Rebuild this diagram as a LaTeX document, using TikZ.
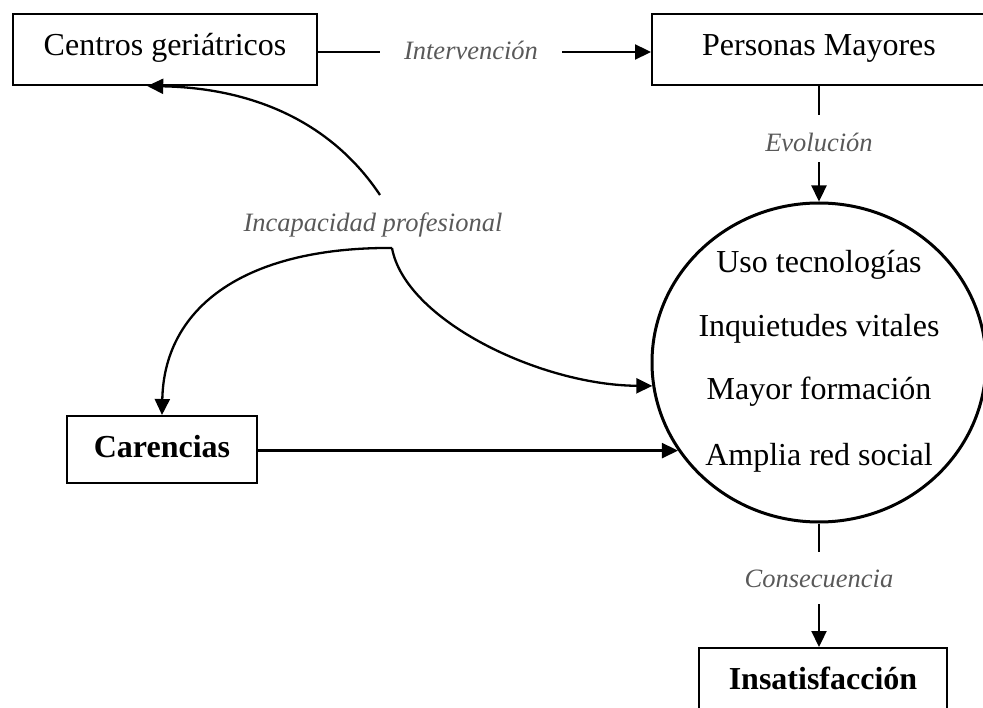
\documentclass[tikz,border=0pt]{standalone}
\usepackage{fontspec}
\setmainfont{Liberation Serif}
\usetikzlibrary{arrows.meta,shapes.geometric}
\definecolor{labelgray}{RGB}{89,89,89}
\begin{document}
\begin{tikzpicture}[x=1pt,y=-1pt,
  box/.style={draw, line width=2pt, inner sep=0pt, text depth=0pt, font=\fontsize{32}{38}\selectfont},
  lab/.style={inner sep=0pt, text depth=0pt, text=labelgray, font=\fontsize{26.5}{32}\selectfont\itshape},
  conn/.style={line width=2.3pt},
  arr/.style={conn, -{Triangle[length=16pt,width=15pt]}},
  ctext/.style={anchor=base, inner sep=0pt, font=\fontsize{32}{38}\selectfont}]
\useasboundingbox (0,0) rectangle (983,708);
\clip (0,0) rectangle (983,708);

% top row
\node[box, minimum width=304, minimum height=71, text height=13pt] (b1) at (165,49.5) {Centros geriátricos};
\node[box, minimum width=334, minimum height=71, text height=12pt] (b2) at (819,49.5) {Personas Mayores};
\node[lab, minimum width=182, minimum height=30, text height=16pt] (iv) at (471,52) {Intervención};
\draw[conn] (b1.east |- iv.west) -- (iv.west);
\draw[arr] (iv.east) -- (b2.west |- iv.east);

% evolution
\node[lab, minimum height=47, text height=27pt] (ev) at (819,138.5) {Evolución};
\draw[conn] (b2.south) -- (ev.north);
\node[draw, ellipse, line width=3pt, minimum width=334, minimum height=319, inner sep=0pt] (circ) at (819,362.5) {};
\draw[arr] (ev.south) -- (circ.north);

\node[ctext] (t1) at (819,273) {Uso tecnologías};
\node[ctext] (t2) at (819,337) {Inquietudes vitales};
\node[ctext] (t3) at (819,400) {Mayor formación};
\node[ctext] (t4) at (819,465) {Amplia red social};

% incapacidad profesional
\node[lab, minimum height=53, text height=21pt] (ip) at (373,221.5) {Incapacidad profesional};
\coordinate (ipT) at (380,195);
\coordinate (ipL) at (382,248);
\coordinate (ipR) at (392,248);
\draw[arr] (ipT) .. controls (330,120) and (250,88) .. (b1.244);

\node[box, minimum width=190, minimum height=67, text height=16pt] (car) at (162,449.5) {\textbf{Carencias}};
\draw[arr] (ipR) -- (ipL) .. controls (240,250) and (164,310) .. (car.north);
\draw[arr] (ipR) .. controls (405,320) and (540,385) .. (circ.188);
\coordinate (cin) at (circ.212.5);
\draw[arr] (car.east |- cin) -- (cin);

% consequence
\node[lab, minimum height=52, text height=18pt] (cons) at (819,578) {Consecuencia};
\draw[conn] (circ.south) -- (cons.north);
\node[box, minimum width=248, minimum height=67, text height=15pt] (ins) at (823,681.5) {\textbf{Insatisfacción}};
\draw[arr] (cons.south) -- (cons.south |- ins.north);
\end{tikzpicture}
\end{document}
